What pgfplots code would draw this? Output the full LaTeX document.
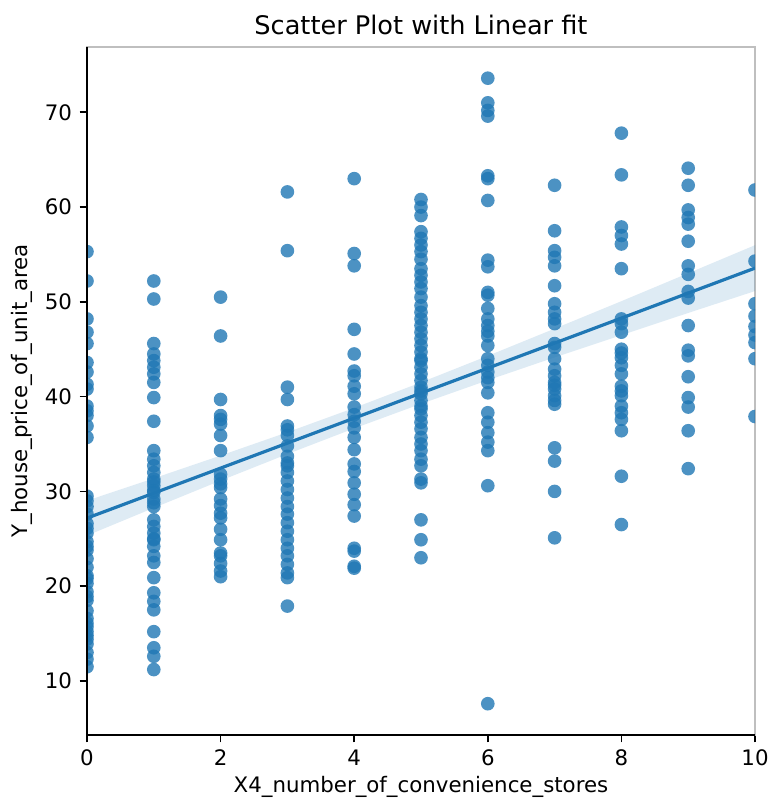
\documentclass[border=0pt]{standalone}
\usepackage{fontspec}
\setmainfont{DejaVu Sans}
\usepackage{pgfplots}
\pgfplotsset{compat=1.18}
\definecolor{tabblue}{HTML}{1F77B4}

\begin{document}
\begin{tikzpicture}
\begin{axis}[
  scale only axis,
  width=313.3pt, height=322.7pt,
  xmin=0, xmax=10, ymin=4.3, ymax=76.9,
  xtick={0,2,4,6,8,10},
  ytick={10,20,30,40,50,60,70},
  xtick pos=bottom, ytick pos=left,
  tick align=outside,
  major tick length=3.5pt,
  every tick/.style={black, line width=0.8pt},
  axis line style={draw=black!25, line width=0.6pt},
  ticklabel style={font=\fontsize{10}{12}\selectfont},
  /pgf/number format/assume math mode=true,
  xlabel={X4\_number\_of\_convenience\_stores},
  ylabel={Y\_house\_price\_of\_unit\_area},
  xlabel style={at={(axis description cs:0.5,-0.0756)}, anchor=center, font=\fontsize{10}{12}\selectfont},
  ylabel style={at={(axis description cs:-0.097,0.5)}, anchor=center, font=\fontsize{10}{12}\selectfont},
  clip marker paths=true,
]
% observations
\addplot[only marks, mark=*, mark size=3.2pt, color=tabblue,
  mark options={solid, fill=tabblue, draw=tabblue, draw opacity=0, fill opacity=0.8}] table {
x y
0 55.3
0 52.2
0 48.2
0 46.8
0 45.6
0 43.6
0 42.6
0 41.3
0 40.8
0 39.0
0 38.5
0 38.0
0 36.9
0 35.7
0 29.5
0 29.0
0 28.4
0 27.6
0 26.6
0 26.1
0 25.6
0 24.7
0 24.2
0 23.8
0 22.9
0 22.0
0 21.1
0 20.8
0 20.3
0 19.4
0 18.9
0 18.5
0 17.4
0 16.6
0 16.1
0 15.7
0 15.2
0 14.8
0 14.4
0 13.9
0 13.0
0 12.3
0 11.5
1 52.2
1 50.3
1 45.6
1 44.5
1 43.8
1 43.1
1 42.4
1 41.5
1 39.9
1 37.4
1 34.3
1 33.4
1 32.7
1 32.0
1 31.3
1 31.0
1 30.6
1 30.1
1 29.9
1 29.2
1 28.8
1 28.4
1 27.0
1 26.3
1 25.6
1 25.0
1 24.9
1 24.2
1 23.2
1 22.5
1 20.9
1 19.3
1 18.4
1 17.5
1 15.2
1 13.5
1 12.6
1 11.2
2 50.5
2 46.4
2 39.7
2 38.0
2 37.6
2 37.1
2 35.9
2 34.3
2 31.8
2 31.3
2 30.8
2 30.4
2 29.2
2 28.5
2 27.7
2 27.2
2 26.0
2 24.9
2 23.5
2 23.2
2 22.4
2 21.6
2 21.0
3 61.6
3 55.4
3 41.0
3 39.7
3 36.9
3 36.5
3 35.9
3 34.8
3 33.7
3 33.0
3 32.7
3 32.0
3 31.1
3 30.2
3 29.3
3 28.4
3 27.6
3 26.7
3 25.8
3 24.9
3 24.0
3 23.2
3 22.3
3 21.4
3 20.9
3 17.9
4 63.0
4 55.1
4 53.8
4 47.1
4 44.5
4 42.7
4 42.2
4 41.1
4 40.3
4 38.9
4 38.1
4 37.4
4 36.7
4 35.7
4 34.4
4 32.9
4 32.1
4 30.9
4 29.7
4 28.6
4 27.4
4 24.0
4 23.7
4 22.1
4 21.9
5 60.8
5 60.0
5 59.1
5 57.4
5 56.7
5 56.0
5 55.3
5 54.5
5 53.5
5 52.8
5 52.1
5 51.4
5 50.5
5 49.6
5 48.9
5 48.2
5 47.5
5 46.8
5 46.1
5 45.4
5 44.7
5 44.0
5 43.8
5 43.1
5 42.4
5 41.7
5 41.0
5 40.6
5 40.3
5 39.6
5 39.0
5 38.7
5 38.0
5 37.3
5 36.6
5 35.7
5 35.0
5 34.3
5 33.4
5 32.7
5 31.3
5 30.9
5 27.0
5 24.9
5 23.0
6 73.6
6 71.0
6 70.2
6 69.6
6 63.3
6 63.0
6 60.7
6 54.4
6 53.7
6 51.0
6 50.7
6 49.3
6 48.2
6 47.5
6 46.9
6 46.4
6 45.4
6 44.0
6 43.3
6 42.6
6 42.0
6 41.5
6 40.4
6 38.3
6 37.3
6 36.2
6 35.2
6 34.3
6 30.6
6 7.6
7 62.3
7 57.5
7 55.4
7 54.7
7 53.8
7 51.7
7 49.8
7 48.9
7 48.2
7 47.7
7 45.6
7 45.2
7 44.0
7 42.9
7 42.2
7 41.5
7 41.2
7 40.8
7 40.1
7 39.6
7 39.2
7 34.6
7 33.2
7 30.0
7 25.1
8 67.8
8 63.4
8 57.9
8 57.0
8 56.1
8 53.5
8 48.2
8 47.7
8 46.8
8 45.0
8 44.6
8 44.1
8 43.3
8 42.4
8 41.1
8 40.6
8 40.1
8 39.0
8 38.3
8 37.6
8 36.4
8 31.6
8 26.5
9 64.1
9 62.3
9 59.7
9 58.9
9 58.2
9 56.4
9 53.8
9 52.9
9 51.1
9 50.4
9 47.5
9 44.9
9 44.3
9 42.1
9 39.9
9 38.9
9 36.4
9 32.4
10 61.8
10 54.3
10 49.8
10 48.5
10 47.4
10 46.5
10 45.7
10 44.0
10 37.9
};
% 95% confidence band of the fit
\addplot[draw=none, fill=tabblue, fill opacity=0.15] coordinates {
(0,29.02) (1,31.38) (2,33.78) (3,36.24) (4,38.81) (5,41.50)
(6,44.30) (7,47.17) (8,50.07) (9,53.02) (10,55.98)
(10,51.14) (9,48.83) (8,46.49) (7,44.14) (6,41.73) (5,39.24)
(4,36.65) (3,33.94) (2,31.14) (1,28.26) (0,25.34)
} -- cycle;
% least-squares line
\addplot[tabblue, line width=1.5pt] coordinates {(0,27.18) (10,53.56)};
\end{axis}
% solid left and bottom spines
\draw[black, line width=0.8pt] (current axis.north west) -- (current axis.south west) -- (current axis.south east);
% title
\node[font=\fontsize{12}{14}\selectfont, anchor=center] at ([yshift=10.3pt]current axis.north) {Scatter Plot with Linear fit};
% page frame
\pgfresetboundingbox
\path ([xshift=-40.8pt,yshift=-30.5pt]current axis.south west) rectangle ([xshift=6.6pt,yshift=22.0pt]current axis.north east);
\end{tikzpicture}
\end{document}
